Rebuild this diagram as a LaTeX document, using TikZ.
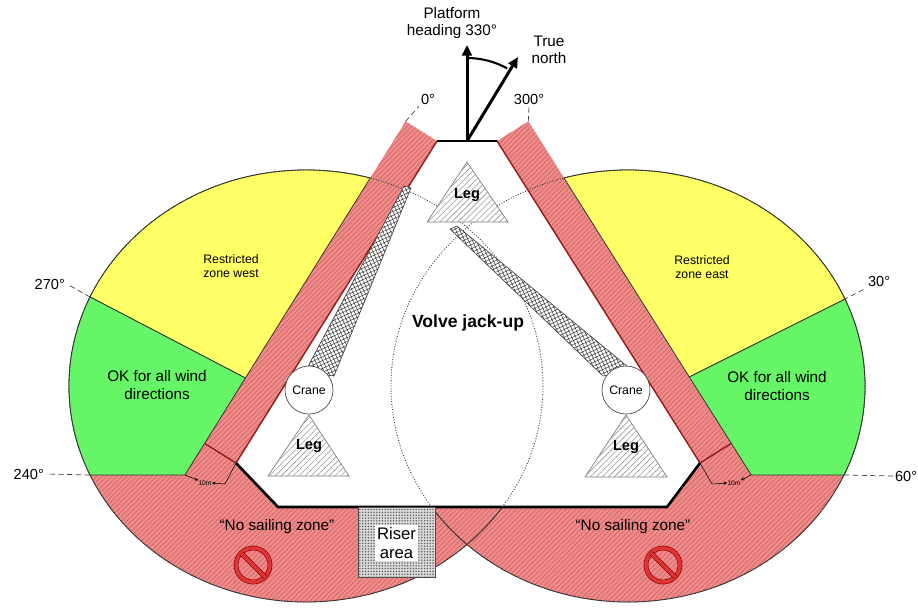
\documentclass[tikz,border=0pt]{standalone}
\usepackage{fontspec}
\setmainfont{Liberation Sans}
\usetikzlibrary{patterns.meta,arrows.meta}
\definecolor{zonered}{RGB}{238,140,140}
\definecolor{hatchred}{RGB}{214,98,98}
\definecolor{edgered}{RGB}{150,25,25}
\definecolor{zoneyellow}{RGB}{255,255,102}
\definecolor{zonegreen}{RGB}{102,245,102}
\definecolor{signred}{RGB}{222,52,52}
\begin{document}
\begin{tikzpicture}[x=0.2mm,y=-0.2mm,
  nosail/.style={fill=zonered,postaction={pattern={Lines[angle=45,distance=2pt,line width=0.4pt]},pattern color=hatchred}},
  legtri/.style={draw=gray,line width=0.4pt,fill=white,postaction={pattern={Lines[angle=45,distance=2.4pt,line width=0.35pt]},pattern color=gray!80}},
  boomarm/.style={draw=black!75,line width=0.35pt,fill=white,postaction={pattern={Hatch[angle=25,distance=2pt,line width=0.3pt]},pattern color=black!75}},
  crane/.style={circle,draw=black!70,fill=white,line width=0.4pt,minimum size=9.6mm,inner sep=0pt,font=\fontsize{7}{8}\selectfont},
  deg/.style={font=\fontsize{8.3}{10}\selectfont,inner sep=1pt},
  zonelbl/.style={align=center,font=\fontsize{8.7}{10}\selectfont},
  reslbl/.style={align=center,font=\fontsize{7}{8}\selectfont},
  leglbl/.style={font=\fontsize{8.3}{10}\selectfont\bfseries},
  degline/.style={draw=black!75,line width=0.4pt,dash pattern=on 3pt off 2pt},
  wedge/.style={draw=black!80,line width=0.45pt},
  bigarrow/.style={line width=1.7pt,-{Triangle[length=6pt,width=5.5pt]}},
  tinyarrow/.style={line width=0.3pt,-{Stealth[length=2pt,width=1.8pt]}},
  nosign/.style={draw=red!55!black,double=signred,double distance=2pt,line width=0.35pt}]
\useasboundingbox (0,0) rectangle (918,608);
\begin{scope}
\clip (306,386) ellipse [x radius=237,y radius=216];
\path[nosail] (0,475) -- (184.9,475) -- (481.4,0) -- (918,0) -- (918,700) -- (0,700) -- cycle;
\end{scope}
\begin{scope}
\clip (628,386) ellipse [x radius=237,y radius=216];
\path[nosail] (918,475) -- (751.3,475) -- (451.9,0) -- (0,0) -- (0,700) -- (918,700) -- cycle;
\end{scope}
\draw[wedge] (306,386) ellipse [x radius=237,y radius=216];
\draw[wedge] (628,386) ellipse [x radius=237,y radius=216];
\path[nosail] (405.6,121.4) -- (437,141) -- (236,463) -- (204.6,443.4) -- cycle;
\path[nosail] (528.3,121.3) -- (497,141) -- (700,463) -- (731.3,443.3) -- cycle;
\begin{scope}
\clip (306,386) ellipse [x radius=237,y radius=216];
\filldraw[wedge,fill=zoneyellow] (0,250) -- (245.4,378) -- (481.4,0) -- (0,0) -- cycle;
\filldraw[wedge,fill=zonegreen] (0,250) -- (245.4,378) -- (184.9,475) -- (0,475) -- cycle;
\end{scope}
\begin{scope}
\clip (628,386) ellipse [x radius=237,y radius=216];
\filldraw[wedge,fill=zoneyellow] (918,262.5) -- (689.3,377) -- (451.9,0) -- (918,0) -- cycle;
\filldraw[wedge,fill=zonegreen] (918,262.5) -- (689.3,377) -- (751.3,475) -- (918,475) -- cycle;
\end{scope}
\begin{scope}
\clip (0,0) -- (481.4,0) -- (184.9,475) -- (0,475) -- cycle;
\draw[wedge] (306,386) ellipse [x radius=237,y radius=216];
\end{scope}
\begin{scope}
\clip (918,0) -- (451.9,0) -- (751.3,475) -- (918,475) -- cycle;
\draw[wedge] (628,386) ellipse [x radius=237,y radius=216];
\end{scope}
\fill[white] (437,141) -- (497,141) -- (700,463) -- (667,507) -- (278,507) -- (236,463) -- cycle;
\draw[edgered,line width=0.8pt] (437,141) -- (236,463) -- (204.6,443.4);
\draw[edgered,line width=0.8pt] (497,141) -- (700,463) -- (731.3,443.3);
\draw[line width=1.6pt] (437,141) -- (497,141);
\draw[line width=1.5pt] (236,463) -- (278,507) -- (667,507) -- (700,463);
\draw[black!80,line width=0.5pt,densely dotted] (306,386) ellipse [x radius=237,y radius=216];
\draw[black!80,line width=0.5pt,densely dotted] (628,386) ellipse [x radius=237,y radius=216];
\path[boomarm] (305,372) -- (334,376) -- (411,188) -- (404,186) -- cycle;
\path[boomarm] (603,376) -- (633,371) -- (457,226) -- (450,229) -- cycle;
\path[legtri] (467,162) -- (508,222) -- (427,222) -- cycle;
\path[legtri] (309,415) -- (349,476) -- (268,476) -- cycle;
\path[legtri] (626,415) -- (667,477) -- (585,477) -- cycle;
\node[leglbl] (legn) at (467,195) {Leg};
\node[leglbl] (legw) at (309,446) {Leg};
\node[leglbl] (lege) at (626,447) {Leg};
\node[crane] (wcrane) at (309,390) {Crane};
\node[crane] (ecrane) at (626,390) {Crane};
\path[draw=black!70,line width=0.4pt,fill=gray!30,postaction={pattern={Dots[distance=1.6pt,radius=0.45pt]},pattern color=black!65}] (358,507) rectangle (435,577);
\node[fill=white,inner sep=1pt,align=center,font=\fontsize{9.5}{11}\selectfont] (riser) at (396.5,543) {Riser\\area};
\node[font=\fontsize{10}{12}\selectfont\bfseries] (jackup) at (468,323) {Volve jack-up};
\node[reslbl] (rzw) at (231,266) {Restricted\\zone west};
\node[reslbl] (rze) at (702,267) {Restricted\\zone east};
\node[zonelbl] (okw) at (157,385) {OK for all wind\\directions};
\node[zonelbl] (oke) at (777,386) {OK for all wind\\directions};
\node[zonelbl] (nsw) at (277,527) {“No sailing zone”};
\node[zonelbl] (nse) at (633,527) {“No sailing zone”};
\draw[nosign] (253,565) circle [radius=17];
\draw[nosign] (241,553) -- (265,577);
\draw[nosign] (663,565) circle [radius=17];
\draw[nosign] (651,553) -- (675,577);
\coordinate (wend) at (236,463);
\coordinate (wext) at (225,484);
\coordinate (wcorner) at (185,475);
\node[font=\fontsize{3.8}{4}\selectfont,inner sep=0pt] (tenw) at (205,483) {10m};
\draw[line width=0.3pt] (wend) -- (wext);
\draw[tinyarrow] (wcorner) -- (tenw.north west);
\draw[tinyarrow] (wext) -- (tenw.east);
\coordinate (eend) at (700,463);
\coordinate (eext) at (712,484);
\coordinate (ecorner) at (751,475);
\node[font=\fontsize{3.8}{4}\selectfont,inner sep=0pt] (tene) at (734,483) {10m};
\draw[line width=0.3pt] (eend) -- (eext);
\draw[tinyarrow] (eext) -- (tene.west);
\draw[tinyarrow] (ecorner) -- (tene.north east);
\coordinate (deck) at (467,141);
\coordinate (heading) at (467,45);
\coordinate (north) at (518,57);
\draw[bigarrow] (deck) -- (heading);
\draw[bigarrow] (deck) -- (north);
\draw[line width=1.2pt] (467,58) arc [start angle=-90,end angle=-61,radius=83];
\node[zonelbl] (headlbl) at (452,23) {Platform\\heading 330°};
\node[zonelbl] (northlbl) at (549,50) {True\\north};
\coordinate (ltop) at (405.6,121.4);
\coordinate (rtop) at (528.3,121.3);
\node[deg] (d0) at (428,99) {0°};
\node[deg] (d300) at (529,99) {300°};
\draw[degline] (ltop) -- (d0.south west);
\draw[degline] (rtop) -- (d300.south);
\coordinate (w270) at (90,297);
\coordinate (w240) at (90,475);
\coordinate (e30) at (843,300);
\coordinate (e60) at (844,475);
\node[deg,anchor=east] (d270) at (67,284) {270°};
\node[deg,anchor=east] (d240) at (46,474) {240°};
\node[deg,anchor=west] (d30) at (866,281) {30°};
\node[deg,anchor=west] (d60) at (893,476) {60°};
\draw[degline] (w270) -- (d270.east);
\draw[degline] (w240) -- (d240.east);
\draw[degline] (e30) -- (d30.south west);
\draw[degline] (e60) -- (d60.west);
\end{tikzpicture}
\end{document}
